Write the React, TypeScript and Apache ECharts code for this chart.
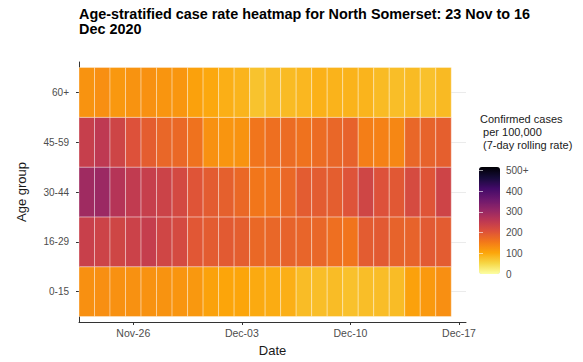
import React, { useEffect, useRef } from "react";
import * as echarts from "echarts";

const dates = [
  "2020-11-23", "2020-11-24", "2020-11-25", "2020-11-26", "2020-11-27", "2020-11-28",
  "2020-11-29", "2020-11-30", "2020-12-01", "2020-12-02", "2020-12-03", "2020-12-04",
  "2020-12-05", "2020-12-06", "2020-12-07", "2020-12-08", "2020-12-09", "2020-12-10",
  "2020-12-11", "2020-12-12", "2020-12-13", "2020-12-14", "2020-12-15", "2020-12-16",
];
const ageGroups = ["0-15", "16-29", "30-44", "45-59", "60+"];

const rate0to15 = [123, 125, 122, 122, 121, 120, 118, 115, 103, 100, 100, 95, 93, 90, 77, 75, 77, 72, 75, 76, 77, 105, 113, 125];
const rate16to29 = [232, 226, 222, 228, 236, 221, 214, 192, 186, 188, 183, 170, 172, 177, 175, 172, 162, 155, 186, 188, 177, 177, 189, 186];
const rate30to44 = [285, 290, 258, 243, 235, 227, 215, 196, 186, 181, 170, 152, 155, 170, 186, 186, 183, 198, 222, 200, 191, 212, 196, 225];
const rate45to59 = [235, 247, 224, 200, 184, 172, 170, 158, 122, 118, 120, 154, 161, 165, 158, 165, 172, 178, 143, 140, 133, 172, 177, 182];
const rate60plus = [120, 125, 115, 120, 122, 118, 117, 105, 97, 90, 85, 70, 77, 78, 82, 88, 86, 86, 85, 78, 75, 78, 72, 79];
const ratesByAge = [rate0to15, rate16to29, rate30to44, rate45to59, rate60plus];

const tickDates = ["2020-11-26", "2020-12-03", "2020-12-10", "2020-12-17"];
const tickLabels = ["Nov-26", "Dec-03", "Dec-10", "Dec-17"];
const legendBreaks = [0, 100, 200, 300, 400, 500];
const legendLabels = ["0", "100", "200", "300", "400", "500+"];
const infernoReversed = [
  "#fcffa4", "#f6d746", "#fca50a", "#f37819", "#dd513a", "#bc3754",
  "#932667", "#6a176e", "#420a68", "#160b39", "#000004",
];

const FONT = "'Liberation Sans', Arial, sans-serif";
const DAY = 86400000;
const dayIndex = (d: string) => Math.round((Date.parse(d) - Date.parse(dates[0])) / DAY);

export default function App() {
  const ref = useRef<HTMLDivElement>(null);
  useEffect(() => {
    if (!ref.current) return;
    const chart = echarts.init(ref.current, null, { renderer: "svg" });
    const data: number[][] = [];
    ratesByAge.forEach((row, yi) => row.forEach((v, xi) => data.push([dayIndex(dates[xi]), yi, v])));
    const tickPos = tickDates.map(dayIndex);

    chart.setOption({
      animation: false,
      backgroundColor: "#ffffff",
      textStyle: { fontFamily: FONT },
      title: {
        text: "Age-stratified case rate heatmap for North Somerset: 23 Nov to 16\nDec 2020",
        left: 79,
        top: 7,
        padding: 0,
        textStyle: { fontFamily: FONT, fontSize: 14.4, fontWeight: "bold", lineHeight: 14.5, color: "#000" },
      },
      grid: [
        { left: 79, top: 62, width: 387, height: 261 },
        { left: 479, top: 170.5, width: 21, height: 103.5 },
      ],
      xAxis: [
        {
          type: "value",
          gridIndex: 0,
          min: -0.5,
          max: 24.45,
          name: "Date",
          nameLocation: "middle",
          nameGap: 22,
          nameTextStyle: { fontFamily: FONT, fontSize: 13, color: "#1a1a1a" },
          axisLine: { show: true, onZero: false, lineStyle: { color: "#333", width: 1 } },
          axisTick: { show: true, length: 3, customValues: tickPos, lineStyle: { color: "#333" } },
          axisLabel: {
            customValues: tickPos,
            fontFamily: FONT,
            fontSize: 10.5,
            color: "#4d4d4d",
            margin: 5,
            formatter: (v: number) => tickLabels[tickPos.indexOf(Math.round(v))] ?? "",
          },
          splitLine: { show: false },
        },
        { type: "value", gridIndex: 1, show: false, min: 0, max: 1 },
      ],
      yAxis: [
        {
          type: "value",
          gridIndex: 0,
          min: -0.61,
          max: 4.61,
          name: "Age group",
          nameLocation: "middle",
          nameRotate: 90,
          nameGap: 51,
          nameTextStyle: { fontFamily: FONT, fontSize: 13, color: "#1a1a1a" },
          axisLine: { show: true, onZero: false, lineStyle: { color: "#333", width: 1 } },
          axisTick: { show: true, length: 3, customValues: [0, 1, 2, 3, 4], lineStyle: { color: "#333" } },
          axisLabel: {
            customValues: [0, 1, 2, 3, 4],
            fontFamily: FONT,
            fontSize: 10,
            color: "#4d4d4d",
            margin: 10,
            formatter: (v: number) => ageGroups[Math.round(v)] ?? "",
          },
          splitLine: { show: true, lineStyle: { color: "#ebebeb", width: 1 } },
        },
        {
          type: "value",
          gridIndex: 1,
          position: "right",
          min: 0,
          max: 500,
          interval: 100,
          z: 10,
          axisLine: { show: false },
          axisTick: { show: true, inside: true, length: 4, lineStyle: { color: "rgba(255,255,255,0.6)" } },
          axisLabel: {
            fontFamily: FONT,
            fontSize: 10,
            color: "#4d4d4d",
            margin: 6,
            formatter: (v: number) => legendLabels[legendBreaks.indexOf(v)] ?? "",
          },
          splitLine: { show: false },
        },
        {
          type: "value",
          gridIndex: 1,
          position: "left",
          min: 0,
          max: 500,
          interval: 100,
          z: 10,
          axisLine: { show: false },
          axisTick: { show: true, inside: true, length: 4, lineStyle: { color: "rgba(255,255,255,0.6)" } },
          axisLabel: { show: false },
          splitLine: { show: false },
        },
      ],
      visualMap: {
        type: "continuous",
        seriesIndex: 0,
        dimension: 2,
        min: 0,
        max: 500,
        calculable: false,
        show: true,
        left: 479,
        top: 167,
        padding: 0,
        itemWidth: 21,
        itemHeight: 107,
        inRange: { color: infernoReversed },
      },
      graphic: [
        {
          type: "text",
          left: 480,
          top: 112,
          style: {
            text: "Confirmed cases\n per 100,000\n (7-day rolling rate)",
            fontFamily: FONT,
            fontSize: 11,
            lineHeight: 13,
            fill: "#1a1a1a",
          },
        },
      ],
      series: [
        {
          type: "custom",
          xAxisIndex: 0,
          yAxisIndex: 0,
          encode: { x: 0, y: 1 },
          data,
          renderItem: (params: any, api: any) => {
            const x = api.value(0);
            const y = api.value(1);
            const p0 = api.coord([x - 0.5, y + 0.5]);
            const p1 = api.coord([x + 0.5, y - 0.5]);
            return {
              type: "rect",
              shape: { x: p0[0], y: p0[1], width: p1[0] - p0[0], height: p1[1] - p0[1] },
              style: { fill: api.visual("color"), stroke: "rgba(255,255,255,0.35)", lineWidth: 1 },
            };
          },
        },
      ],
    });
    return () => chart.dispose();
  }, []);
  return (
    <div
      ref={ref}
      style={{ position: "absolute", left: 0, top: 0, width: 583, height: 362, background: "#fff" }}
    />
  );
}
